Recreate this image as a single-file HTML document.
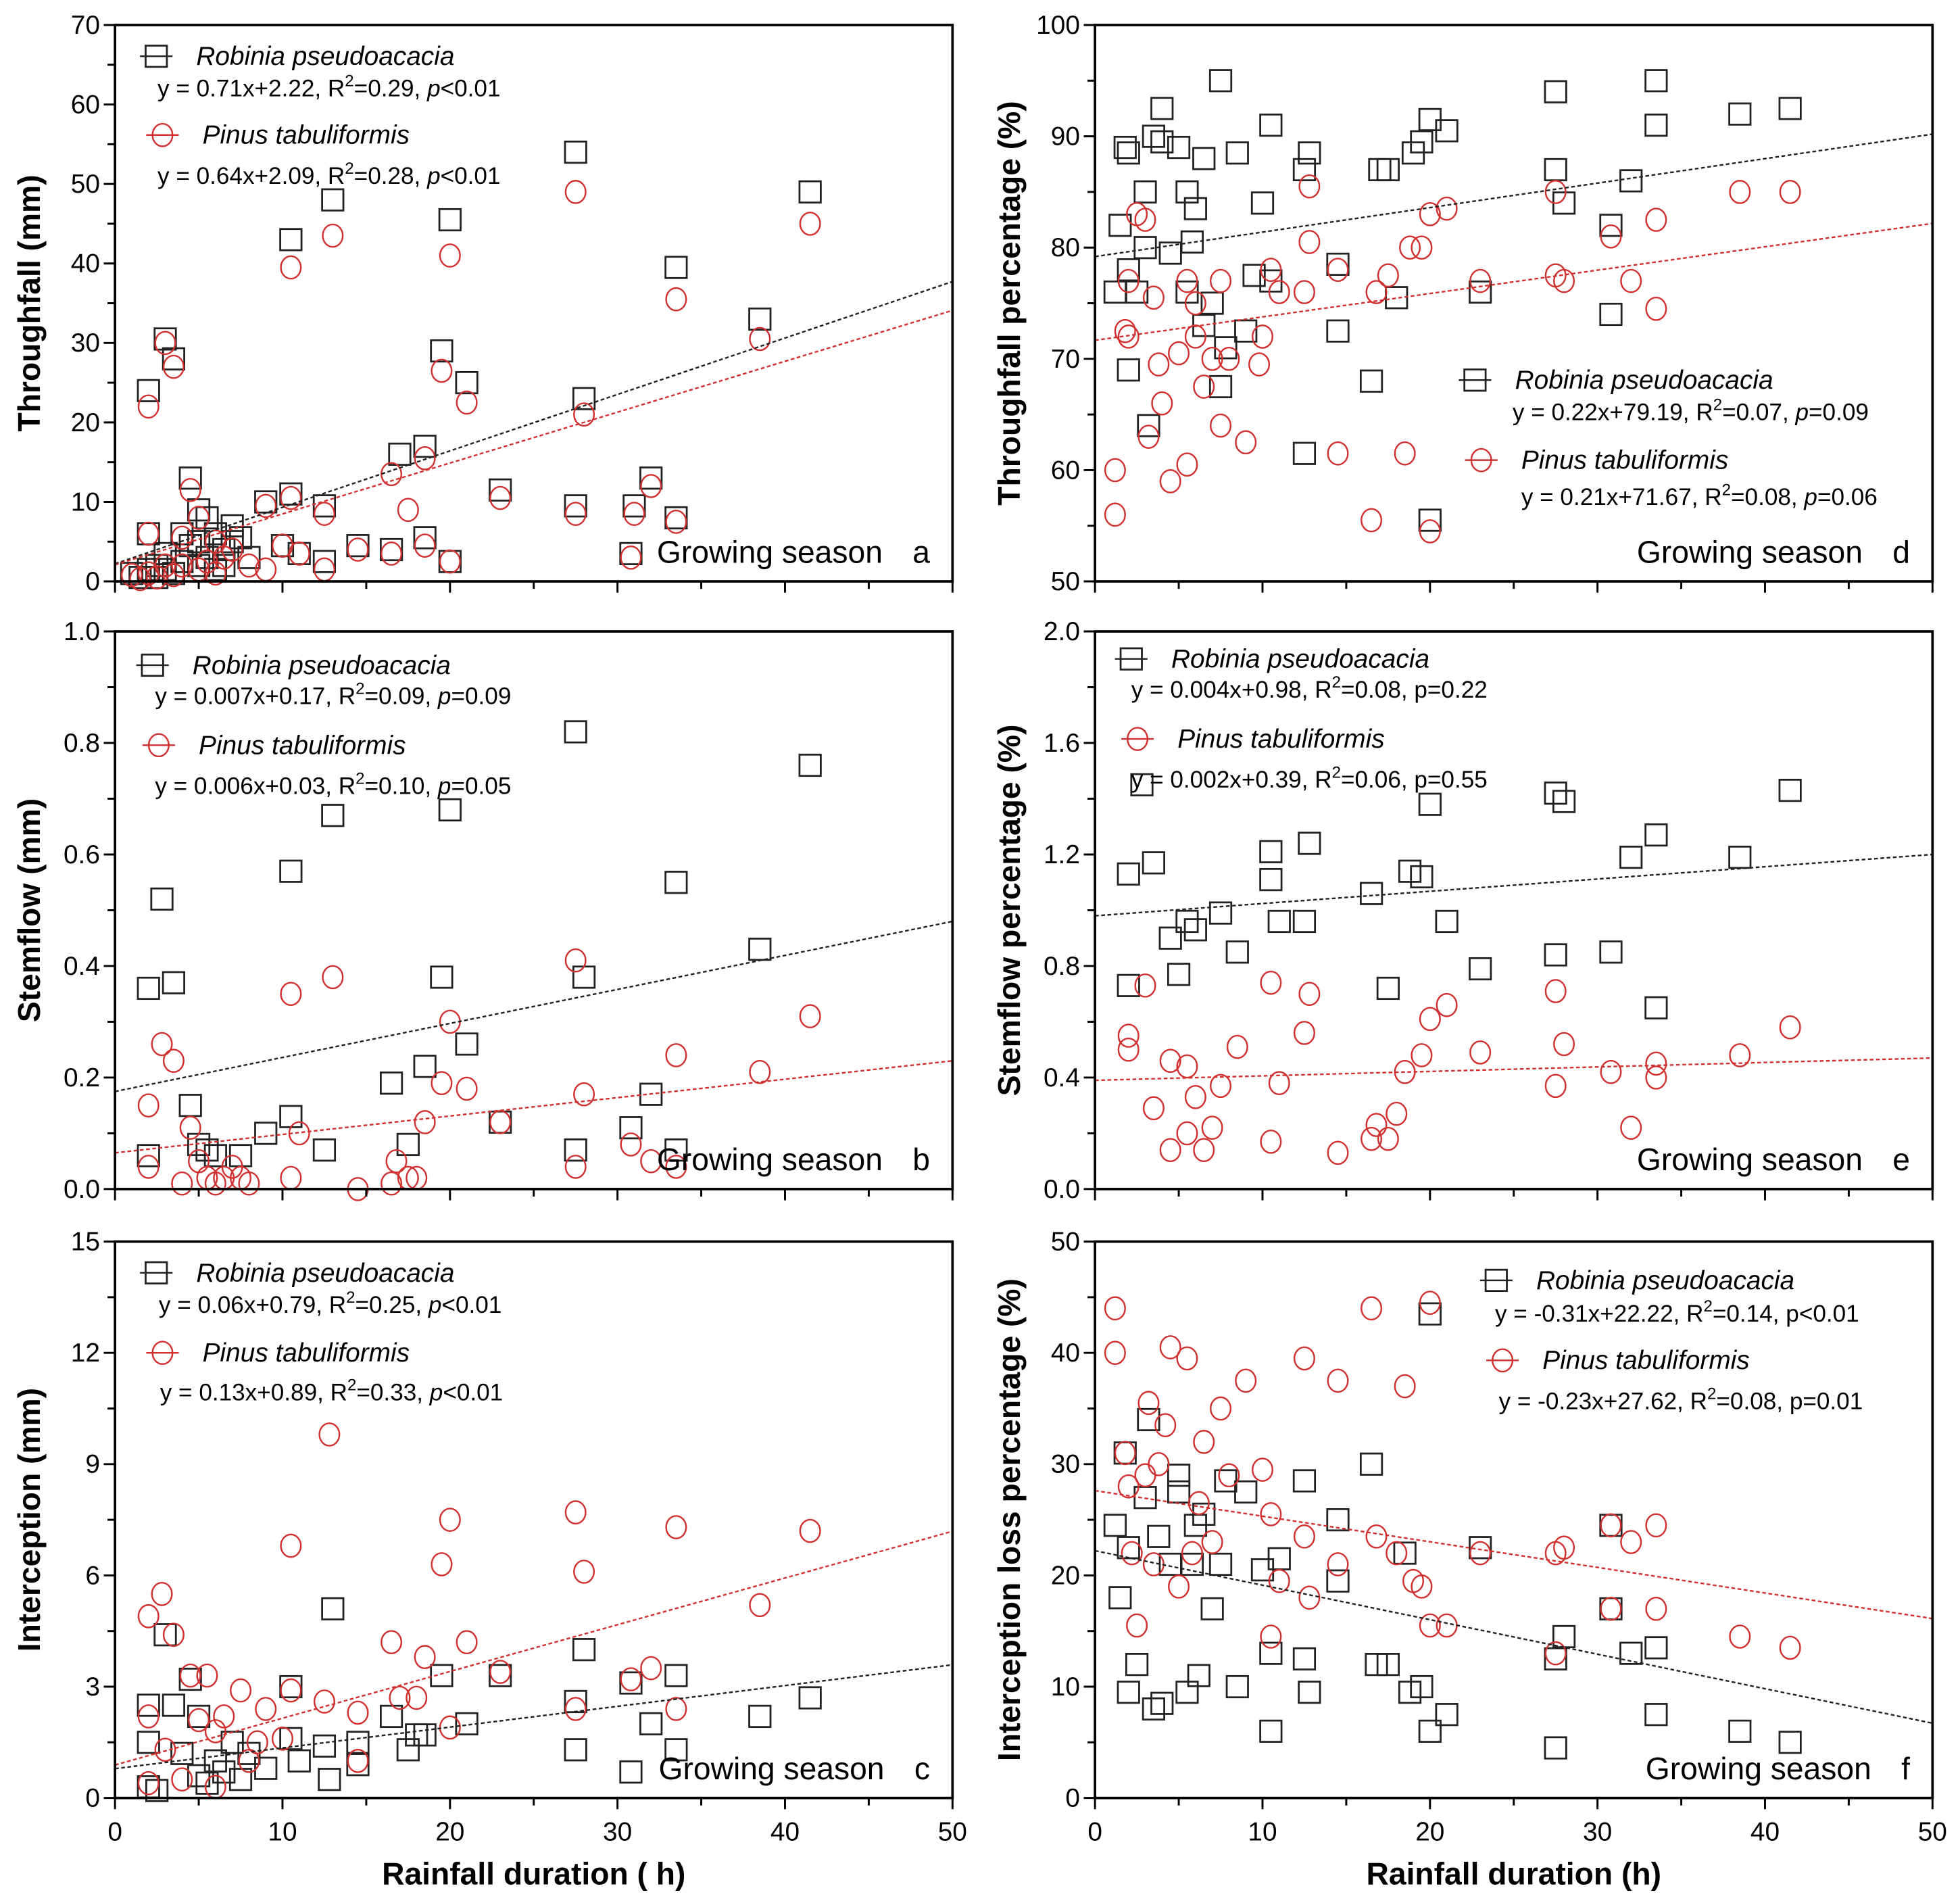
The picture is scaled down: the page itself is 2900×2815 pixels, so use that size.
<!DOCTYPE html>
<html><head><meta charset="utf-8"><style>
html,body{margin:0;padding:0;background:#fff}
svg{display:block}
text{font-family:"Liberation Sans",sans-serif}
</style></head><body>
<svg id="fig" xmlns="http://www.w3.org/2000/svg" width="2900" height="2815" viewBox="0 0 1568 1522" preserveAspectRatio="none"></svg>
<script>
// ---- data arrays ----
const tfRobinia=[[2,24],[3,30.5],[3.5,28],[10.5,43],[13,48],[20,45.5],[19.5,29],[21,25],[27.5,54],[41.5,49],[33.5,39.5],[38.5,33],[28,23],[17,16],[18.5,17],[4.5,13],[23,11.5],[10.5,11],[9,10],[32,13],[27.5,9.5],[31,9.5],[33.5,8],[12.5,9.5],[5,9],[5.5,8],[7,7],[6,6],[2,6],[4,6],[10,4.5],[14.5,4.5],[11,3.5],[16.5,4],[18.5,5.5],[20,2.5],[30.8,3.5],[12.5,2.5],[1,1],[1.5,0.5],[2,1.5],[2.5,0.5],[2.5,2],[3,3.5],[3.5,1],[4,2.5],[4.5,4.5],[5,2],[5.5,3],[6,1.5],[6.5,4],[6.5,2],[7,5],[7.5,5.5],[8,3],[3,1.5],[5,5]];
const tfPinus=[[2,22],[3,30],[3.5,27],[10.5,39.5],[13,43.5],[20,41],[19.5,26.5],[21,22.5],[27.5,49],[41.5,45],[33.5,35.5],[38.5,30.5],[28,21],[16.5,13.5],[18.5,15.5],[4.5,11.5],[23,10.5],[10.5,10.5],[9,9.5],[32,12],[27.5,8.5],[31,8.5],[33.5,7.5],[12.5,8.5],[17.5,9],[5,8],[2,6],[4,5.5],[6,5],[10,4.5],[11,3.5],[14.5,4],[16.5,3.5],[18.5,4.5],[20,2.5],[30.8,3],[12.5,1.5],[1,0.8],[1.5,0.3],[2,1],[2.5,0.5],[3,2],[3.5,0.8],[4,2],[5,1.5],[5.5,2.5],[6,1],[6.5,3],[7,4],[8,2],[9,1.5]];
const sfRobinia=[[2,0.36],[2,0.06],[2.8,0.52],[3.5,0.37],[4.5,0.15],[5,0.08],[5.5,0.07],[6,0.06],[7.5,0.06],[9,0.1],[10.5,0.57],[10.5,0.13],[12.5,0.07],[13,0.67],[16.5,0.19],[17.5,0.08],[18.5,0.22],[19.5,0.38],[20,0.68],[21,0.26],[23,0.12],[27.5,0.82],[27.5,0.07],[28,0.38],[30.8,0.11],[32,0.17],[33.5,0.55],[33.5,0.07],[38.5,0.43],[41.5,0.76]];
const sfPinus=[[2,0.15],[2,0.04],[2.8,0.26],[3.5,0.23],[4,0.01],[4.5,0.11],[5,0.05],[5.5,0.02],[6,0.01],[6.5,0.02],[7,0.04],[7.5,0.02],[8,0.01],[10.5,0.35],[10.5,0.02],[11,0.1],[13,0.38],[14.5,0.0],[16.5,0.01],[16.8,0.05],[17.5,0.02],[18,0.02],[18.5,0.12],[19.5,0.19],[20,0.30],[21,0.18],[23,0.12],[27.5,0.41],[27.5,0.04],[28,0.17],[30.8,0.08],[32,0.05],[33.5,0.24],[33.5,0.04],[38.5,0.21],[41.5,0.31]];
const inRobinia=[[2,2.5],[2,1.5],[2,0.3],[2.5,0.2],[3,4.4],[3.5,2.5],[4,1.2],[4.5,3.2],[5,2.2],[5,0.6],[5.5,0.4],[6,1.0],[6.5,0.7],[7,1.5],[7.5,0.5],[8,1.2],[9,0.8],[10.5,3.0],[10.5,1.6],[11,1.0],[12.5,1.4],[13,5.1],[12.8,0.5],[14.5,1.5],[14.5,0.9],[16.5,2.2],[17.5,1.3],[18,1.7],[18.5,1.7],[19.5,3.3],[21,2.0],[23,3.3],[27.5,2.6],[27.5,1.3],[28,4.0],[30.8,3.1],[30.8,0.7],[32,2.0],[33.5,3.3],[33.5,1.3],[38.5,2.2],[41.5,2.7]];
const inPinus=[[2,4.9],[2,2.2],[2,0.4],[2.8,5.5],[3.5,4.4],[3,1.3],[4.5,3.3],[5,2.1],[5.5,3.3],[6,1.8],[6.5,2.2],[7.5,2.9],[8,1.0],[8.5,1.5],[9,2.4],[10.5,6.8],[10.5,2.9],[10,1.6],[12.8,9.8],[12.5,2.6],[14.5,2.3],[14.5,1.0],[16.5,4.2],[17,2.7],[18.5,3.8],[18,2.7],[19.5,6.3],[20,7.5],[20,1.9],[21,4.2],[23,3.4],[27.5,7.7],[27.5,2.4],[28,6.1],[30.8,3.2],[32,3.5],[33.5,7.3],[33.5,2.4],[38.5,5.2],[41.5,7.2],[4,0.5],[6,0.3]];
const tpRobinia=[[1.2,76],[1.5,82],[1.8,89],[2,88.5],[2,78],[2,69],[2.5,76],[3,85],[3,80],[3.2,64],[3.5,90],[4,92.5],[4,89.5],[4.5,79.5],[5,89],[5.5,85],[5.5,76],[5.8,80.5],[6,83.5],[6.5,88],[6.5,73],[7,75],[7.5,95],[7.5,67.5],[7.8,71],[8.5,88.5],[9,72.5],[9.5,77.5],[10,84],[10.5,91],[10.5,77],[12.5,87],[12.5,61.5],[12.8,88.5],[14.5,78.5],[14.5,72.5],[16.5,68],[17,87],[17.5,87],[18,75.5],[19,88.5],[19.5,89.5],[20,91.5],[20,55.5],[21,90.5],[23,76],[27.5,94],[27.5,87],[28,84],[30.8,82],[30.8,74],[32,86],[33.5,95],[33.5,91],[38.5,92],[41.5,92.5]];
const tpPinus=[[1.2,60],[1.2,56],[1.8,72.5],[2,77],[2,72],[2.5,83],[3,82.5],[3.2,63],[3.5,75.5],[3.8,69.5],[4,66],[4.5,59],[5,70.5],[5.5,60.5],[5.5,77],[6,72],[6,75],[6.5,67.5],[7,70],[7.5,64],[7.5,77],[8,70],[9,62.5],[9.8,69.5],[10,72],[10.5,78],[11,76],[12.5,76],[12.8,85.5],[12.8,80.5],[14.5,61.5],[14.5,78],[16.5,55.5],[16.8,76],[17.5,77.5],[18.5,61.5],[18.8,80],[19.5,80],[20,83],[20,54.5],[21,83.5],[23,77],[27.5,85],[27.5,77.5],[28,77],[30.8,81],[32,77],[33.5,82.5],[33.5,74.5],[38.5,85],[41.5,85]];
const spRobinia=[[2,1.13],[2,0.73],[2.8,1.45],[3.5,1.17],[4.5,0.9],[5,0.77],[5.5,0.96],[6,0.93],[7.5,0.99],[8.5,0.85],[10.5,1.21],[10.5,1.11],[11,0.96],[12.5,0.96],[12.8,1.24],[16.5,1.06],[17.5,0.72],[18.8,1.14],[19.5,1.12],[20,1.38],[21,0.96],[23,0.79],[27.5,1.42],[27.5,0.84],[28,1.39],[30.8,0.85],[32,1.19],[33.5,1.27],[33.5,0.65],[38.5,1.19],[41.5,1.43]];
const spPinus=[[2,0.55],[2,0.5],[3,0.73],[3.5,0.29],[4.5,0.46],[4.5,0.14],[5.5,0.2],[5.5,0.44],[6,0.33],[6.5,0.14],[7,0.22],[7.5,0.37],[8.5,0.51],[10.5,0.74],[10.5,0.17],[11,0.38],[12.5,0.56],[12.8,0.7],[14.5,0.13],[16.5,0.18],[16.8,0.23],[17.5,0.18],[18,0.27],[18.5,0.42],[19.5,0.48],[20,0.61],[21,0.66],[23,0.49],[27.5,0.71],[27.5,0.37],[28,0.52],[30.8,0.42],[32,0.22],[33.5,0.45],[33.5,0.4],[38.5,0.48],[41.5,0.58]];
const ipRobinia=[[1.2,24.5],[1.5,18],[1.8,31],[2,22.5],[2,9.5],[2.5,12],[3,27],[3.2,34],[3.5,8],[3.8,23.5],[4,8.5],[4.5,21],[5,29],[5,27.5],[5.5,9.5],[5.8,21],[6,24.5],[6.2,11],[6.5,25.5],[7,17],[7.5,21],[7.8,28.5],[8.5,10],[9,27.5],[10,20.5],[10.5,6],[10.5,13],[11,21.5],[12.5,28.5],[12.5,12.5],[12.8,9.5],[14.5,25],[14.5,19.5],[16.5,30],[16.8,12],[17.5,12],[18.5,22],[18.8,9.5],[19.5,10],[20,43.5],[20,6],[21,7.5],[23,22.5],[27.5,4.5],[27.5,12.5],[28,14.5],[30.8,24.5],[30.8,17],[32,13],[33.5,13.5],[33.5,7.5],[38.5,6],[41.5,5]];
const ipPinus=[[1.2,44],[1.2,40],[1.8,31],[2,28],[2.2,22],[2.5,15.5],[3,29],[3.2,35.5],[3.5,21],[3.8,30],[4.2,33.5],[4.5,40.5],[5,19],[5.5,39.5],[5.8,22],[6.2,26.5],[6.5,32],[7,23],[7.5,35],[8,29],[9,37.5],[10,29.5],[10.5,25.5],[10.5,14.5],[11,19.5],[12.5,39.5],[12.5,23.5],[12.8,18],[14.5,37.5],[14.5,21],[16.5,44],[16.8,23.5],[18,22],[18.5,37],[19,19.5],[19.5,19],[20,44.5],[20,15.5],[21,15.5],[23,22],[27.5,13],[27.5,22],[28,22.5],[30.8,24.5],[30.8,17],[32,23],[33.5,24.5],[33.5,17],[38.5,14.5],[41.5,13.5]];
// fitted lines [slope, intercept]
const fitA=[[0.71,2.22],[0.64,2.09]];
const fitB=[[0.0061,0.175],[0.0033,0.065]];
const fitC=[[0.056,0.79],[0.126,0.89]];
const fitD=[[0.22,79.19],[0.21,71.67]];
const fitE=[[0.0044,0.98],[0.0016,0.39]];
const fitF=[[-0.31,22.22],[-0.23,27.62]];
const xTicks=[0,10,20,30,40,50];
const yTicksA=[0,10,20,30,40,50,60,70];
const yTicksB=["0.0","0.2","0.4","0.6","0.8","1.0"];
const yTicksC=[0,3,6,9,12,15];
const yTicksD=[50,60,70,80,90,100];
const yTicksE=["0.0","0.4","0.8","1.2","1.6","2.0"];
const yTicksF=[0,10,20,30,40,50];

const NS="http://www.w3.org/2000/svg";
const svg=document.getElementById('fig');
function el(tag,attrs,parent){const e=document.createElementNS(NS,tag);for(const k in attrs)e.setAttribute(k,attrs[k]);(parent||svg).appendChild(e);return e;}

function panel(o){
  const g=el('g',{});
  
  
  const yt=o.yTicks.map(Number);
  const ymin=yt[0],ymax=yt[yt.length-1];
  const X=v=>o.x0+(v-0)/(50-0)*(o.x1-o.x0);
  const Y=v=>o.y1-(v-ymin)/(ymax-ymin)*(o.y1-o.y0);
  // points
  const pg=el('g',{},g);
  o.rob.forEach(p=>{const s=8.5;const r=el('rect',{x:X(p[0])-s,y:Y(p[1])-s,width:2*s,height:2*s,fill:'none',stroke:'#222','stroke-width':1.5},pg);
    
    });
  o.pin.forEach(p=>{const c=el('ellipse',{cx:X(p[0]),cy:Y(p[1]),rx:8,ry:9,fill:'none',stroke:'#d03030','stroke-width':1.3},pg);
    
    });
  // fit lines
  o.fit.forEach((f,i)=>{
    let xa=0,xb=50,ya=f[1],yb=f[0]*50+f[1];
    const l=el('line',{x1:X(xa),y1:Y(ya),x2:X(xb),y2:Y(yb),stroke:i?'#d03030':'#222','stroke-width':1.3,'stroke-dasharray':'3 2'},g);
    
    
  });
  // frame
  const fr=el('rect',{x:o.x0,y:o.y0,width:o.x1-o.x0,height:o.y1-o.y0,fill:'none',stroke:'#000','stroke-width':2},g);
  
  
  // x ticks
  for(let v=0;v<=50;v+=5){const big=v%10===0;el('line',{x1:X(v),x2:X(v),y1:o.y1,y2:o.y1+(big?9:6),stroke:'#000','stroke-width':1.6},g);}
  if(o.xlabels){xTicks.forEach(v=>{const t=el('text',{x:X(v),y:o.y1+34,'text-anchor':'middle','font-size':21},g);t.textContent=v;
    
    });
    const xt=el('text',{x:(o.x0+o.x1)/2,y:o.y1+69,'text-anchor':'middle','font-size':25,'font-weight':'bold'},g);xt.textContent=o.xtitle;
    
    }
  // y ticks
  const step=(ymax-ymin)/(yt.length-1);
  for(let v=ymin;v<=ymax+1e-9;v+=step/2){const big=Math.abs(((v-ymin)/step)-Math.round((v-ymin)/step))<1e-6;el('line',{x1:o.x0,x2:o.x0-(big?9:6),y1:Y(v),y2:Y(v),stroke:'#000','stroke-width':1.6},g);}
  o.yTicks.forEach(v=>{const t=el('text',{x:o.x0-12,y:Y(Number(v))+7,'text-anchor':'end','font-size':21},g);t.textContent=v;
    
    });
  const cy=(o.y0+o.y1)/2;
  const ytl=el('text',{x:o.ytx,y:cy,'text-anchor':'middle','font-size':25,'font-weight':'bold',transform:`rotate(-90 ${o.ytx} ${cy})`},g);ytl.textContent=o.ytitle;
  
  
  // legend
  const L=o.leg;
  const lg=el('g',{},g);
  
  
  el('line',{x1:L.rx-13,x2:L.rx+13,y1:L.ry,y2:L.ry,stroke:'#222','stroke-width':1.3},lg);
  el('rect',{x:L.rx-8.5,y:L.ry-8.5,width:17,height:17,fill:'none',stroke:'#222','stroke-width':1.5},lg);
  let t=el('text',{x:L.rx+32,y:L.ry+7,'font-size':21,'font-style':'italic'},lg);t.textContent='Robinia pseudoacacia';
  eq(lg,L.ex1,L.ey1,o.eq1);
  el('line',{x1:L.px-13,x2:L.px+13,y1:L.py,y2:L.py,stroke:'#d03030','stroke-width':1.3},lg);
  el('ellipse',{cx:L.px,cy:L.py,rx:8,ry:9,fill:'none',stroke:'#d03030','stroke-width':1.3},lg);
  t=el('text',{x:L.px+32,y:L.py+7,'font-size':21,'font-style':'italic'},lg);t.textContent='Pinus tabuliformis';
  eq(lg,L.ex2,L.ey2,o.eq2);
  const gs=el('text',{x:o.x1-18,y:o.y1-15,'text-anchor':'end','font-size':25},g);
  gs.innerHTML='Growing season<tspan dx="24">'+o.id+'</tspan>';
  
  
}
function eq(p,x,y,parts){
  const t=el('text',{x:x,y:y,'font-size':19},p);
  t.innerHTML=`${parts[0]}, R<tspan dy="-8" font-size="13">2</tspan><tspan dy="8">=${parts[1]}, </tspan><tspan font-style="${parts[3]?'italic':'normal'}">p</tspan>${parts[2]}`;
  
  
}
const L0=92,L1=762,R0=876,R1=1546;
const rowsY=[[20,465],[505,951],[993,1438]];
panel({id:'a',x0:L0,x1:L1,y0:rowsY[0][0],y1:rowsY[0][1],yTicks:yTicksA,rob:tfRobinia,pin:tfPinus,fit:fitA,ytitle:'Throughfall (mm)',ytx:32,
 leg:{rx:125,ry:45,ex1:126,ey1:77,px:130,py:108,ex2:126,ey2:147},eq1:['y = 0.71x+2.22','0.29','<0.01',1],eq2:['y = 0.64x+2.09','0.28','<0.01',1]});
panel({id:'b',x0:L0,x1:L1,y0:rowsY[1][0],y1:rowsY[1][1],yTicks:yTicksB,rob:sfRobinia,pin:sfPinus,fit:fitB,ytitle:'Stemflow (mm)',ytx:32,
 leg:{rx:122,ry:532,ex1:124,ey1:563,px:127,py:596,ex2:124,ey2:635},eq1:['y = 0.007x+0.17','0.09','=0.09',1],eq2:['y = 0.006x+0.03','0.10','=0.05',1]});
panel({id:'c',x0:L0,x1:L1,y0:rowsY[2][0],y1:rowsY[2][1],yTicks:yTicksC,rob:inRobinia,pin:inPinus,fit:fitC,ytitle:'Interception (mm)',ytx:32,xlabels:true,xtitle:'Rainfall duration ( h)',
 leg:{rx:125,ry:1018,ex1:127,ey1:1050,px:130,py:1082,ex2:128,ey2:1120},eq1:['y = 0.06x+0.79','0.25','<0.01',1],eq2:['y = 0.13x+0.89','0.33','<0.01',1]});
panel({id:'d',x0:R0,x1:R1,y0:rowsY[0][0],y1:rowsY[0][1],yTicks:yTicksD,rob:tpRobinia,pin:tpPinus,fit:fitD,ytitle:'Throughfall percentage (%)',ytx:816,
 leg:{rx:1180,ry:304,ex1:1210,ey1:336,px:1185,py:368,ex2:1217,ey2:404},eq1:['y = 0.22x+79.19','0.07','=0.09',1],eq2:['y = 0.21x+71.67','0.08','=0.06',1]});
panel({id:'e',x0:R0,x1:R1,y0:rowsY[1][0],y1:rowsY[1][1],yTicks:yTicksE,rob:spRobinia,pin:spPinus,fit:fitE,ytitle:'Stemflow percentage (%)',ytx:816,
 leg:{rx:905,ry:527,ex1:905,ey1:558,px:910,py:591,ex2:905,ey2:630},eq1:['y = 0.004x+0.98','0.08','=0.22',0],eq2:['y = 0.002x+0.39','0.06','=0.55',0]});
panel({id:'f',x0:R0,x1:R1,y0:rowsY[2][0],y1:rowsY[2][1],yTicks:yTicksF,rob:ipRobinia,pin:ipPinus,fit:fitF,ytitle:'Interception loss percentage (%)',ytx:816,xlabels:true,xtitle:'Rainfall duration (h)',
 leg:{rx:1197,ry:1024,ex1:1196,ey1:1057,px:1202,py:1088,ex2:1199,ey2:1127},eq1:['y = -0.31x+22.22','0.14','<0.01',0],eq2:['y = -0.23x+27.62','0.08','=0.01',0]});
</script>
</body></html>
